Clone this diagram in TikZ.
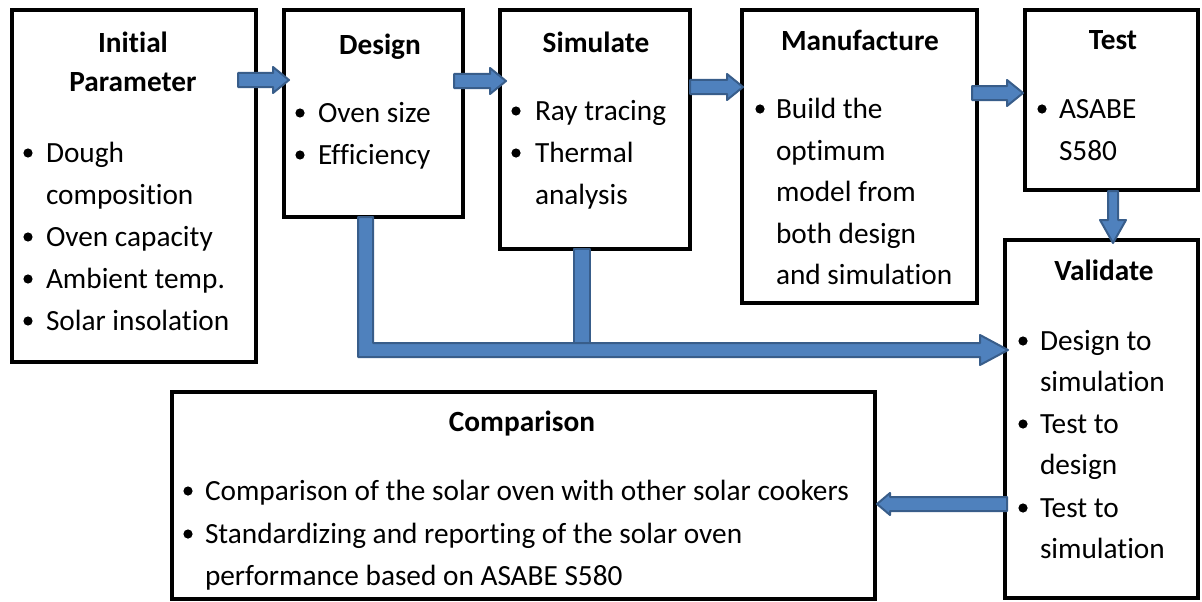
\documentclass[tikz,border=0pt]{standalone}
\usepackage{fontspec}
\setmainfont[Ligatures=NoCommon]{Carlito}
\definecolor{afill}{RGB}{79,129,189}
\definecolor{aline}{RGB}{56,93,138}
\tikzset{
  box/.style={draw=black, line width=4.5pt, rectangle, inner sep=0pt, outer sep=0pt},
  arr/.style={fill=afill, draw=aline, line width=2pt, line join=round},
  txt/.style={inner sep=0pt, outer sep=0pt, font=\fontsize{29.3}{35}\selectfont},
  ttl/.style={txt, font=\fontsize{29.3}{35}\selectfont\bfseries, anchor=base},
  item/.style={txt, anchor=base west},
}
\newcommand\bul[2]{\fill ({#1},{#2-9}) circle (4.6pt);}
\newcommand\rarr[3]{\filldraw[arr] ({#1},{#3-7}) -- ({#2-16},{#3-7}) -- ({#2-16},{#3-13}) -- ({#2},{#3}) -- ({#2-16},{#3+13}) -- ({#2-16},{#3+7}) -- ({#1},{#3+7}) -- cycle;}
\begin{document}
\begin{tikzpicture}[x=1pt,y=-1pt]
\useasboundingbox (0,0) rectangle (1202,602);
\fill[white] (0,0) rectangle (1202,602);
% boxes
\node[box, minimum width=244pt, minimum height=352pt] (init) at (134,186) {};
\node[box, minimum width=179pt, minimum height=207pt] (design) at (373.5,113.5) {};
\node[box, minimum width=190pt, minimum height=239pt] (sim) at (595,129.5) {};
\node[box, minimum width=235pt, minimum height=293pt] (manu) at (859.5,156.5) {};
\node[box, minimum width=173pt, minimum height=180pt] (test) at (1111.5,100) {};
\node[box, minimum width=193pt, minimum height=358pt] (valid) at (1101.5,419) {};
\node[box, minimum width=703pt, minimum height=207pt] (comp) at (523.5,495.5) {};
% Initial Parameter
\node[ttl] (ti1) at (133,53) {Initial};
\node[ttl] (ti2) at (133,92) {Parameter};
\bul{28}{162}\node[item] (i1) at (46,162) {Dough};
\node[item] (i2) at (46,204) {composition};
\bul{28}{246}\node[item] (i3) at (46,246) {Oven capacity};
\bul{28}{288}\node[item] (i4) at (46,288) {Ambient temp.};
\bul{28}{330}\node[item] (i5) at (46,330) {Solar insolation};
% Design
\node[ttl] (td) at (380,55) {Design};
\bul{300}{122}\node[item] (d1) at (318,122) {Oven size};
\bul{300}{164}\node[item] (d2) at (318,164) {Efficiency};
% Simulate
\node[ttl] (ts) at (596,53) {Simulate};
\bul{516}{120}\node[item] (s1) at (535,120) {Ray tracing};
\bul{516}{162}\node[item] (s2) at (535,162) {Thermal};
\node[item] (s3) at (535,204) {analysis};
% Manufacture
\node[ttl] (tm) at (860,51) {Manufacture};
\bul{760}{118}\node[item] (m1) at (776,118) {Build the};
\node[item] (m2) at (776,160) {optimum};
\node[item] (m3) at (776,201) {model from};
\node[item] (m4) at (776,243) {both design};
\node[item] (m5) at (776,284) {and simulation};
% Test
\node[ttl] (tt) at (1113,50) {Test};
\bul{1042}{118}\node[item] (e1) at (1059,118) {ASABE};
\node[item] (e2) at (1059,160) {S580};
% Validate
\node[ttl] (tv) at (1104,280) {Validate};
\bul{1023}{350}\node[item] (v1) at (1040,350) {Design to};
\node[item] (v2) at (1040,391) {simulation};
\bul{1023}{433}\node[item] (v3) at (1040,433) {Test to};
\node[item] (v4) at (1040,474) {design};
\bul{1023}{517}\node[item] (v5) at (1040,517) {Test to};
\node[item] (v6) at (1040,558) {simulation};
% Comparison
\node[ttl] (tc) at (522,431) {Comparison};
\bul{188}{500}\node[item] (c1) at (205,500) {Comparison of the solar oven with other solar cookers};
\bul{188}{543}\node[item] (c2) at (205,543) {Standardizing and reporting of the solar oven};
\node[item] (c3) at (205,585) {performance based on ASABE S580};
% arrows
\rarr{238}{289}{80}
\rarr{454}{506}{81}
\rarr{690}{743}{87}
\rarr{972}{1023}{93}
% Test -> Validate (down)
\filldraw[arr] (1108,191) -- (1108,220) -- (1100,220) -- (1113,243) -- (1126,220) -- (1118,220) -- (1118,191) -- cycle;
% Design/Simulate -> Validate
\filldraw[arr] (358,217) -- (358,357) -- (980,357) -- (980,365) -- (1008,350) -- (980,335) -- (980,343) -- (373,343) -- (373,217) -- cycle;
\filldraw[arr] (574,249) -- (574,343) -- (590,343) -- (590,249) -- cycle;
% Validate -> Comparison
\filldraw[arr] (1007,497) -- (890,497) -- (890,493) -- (877,504) -- (890,515) -- (890,511) -- (1007,511) -- cycle;
\end{tikzpicture}
\end{document}
